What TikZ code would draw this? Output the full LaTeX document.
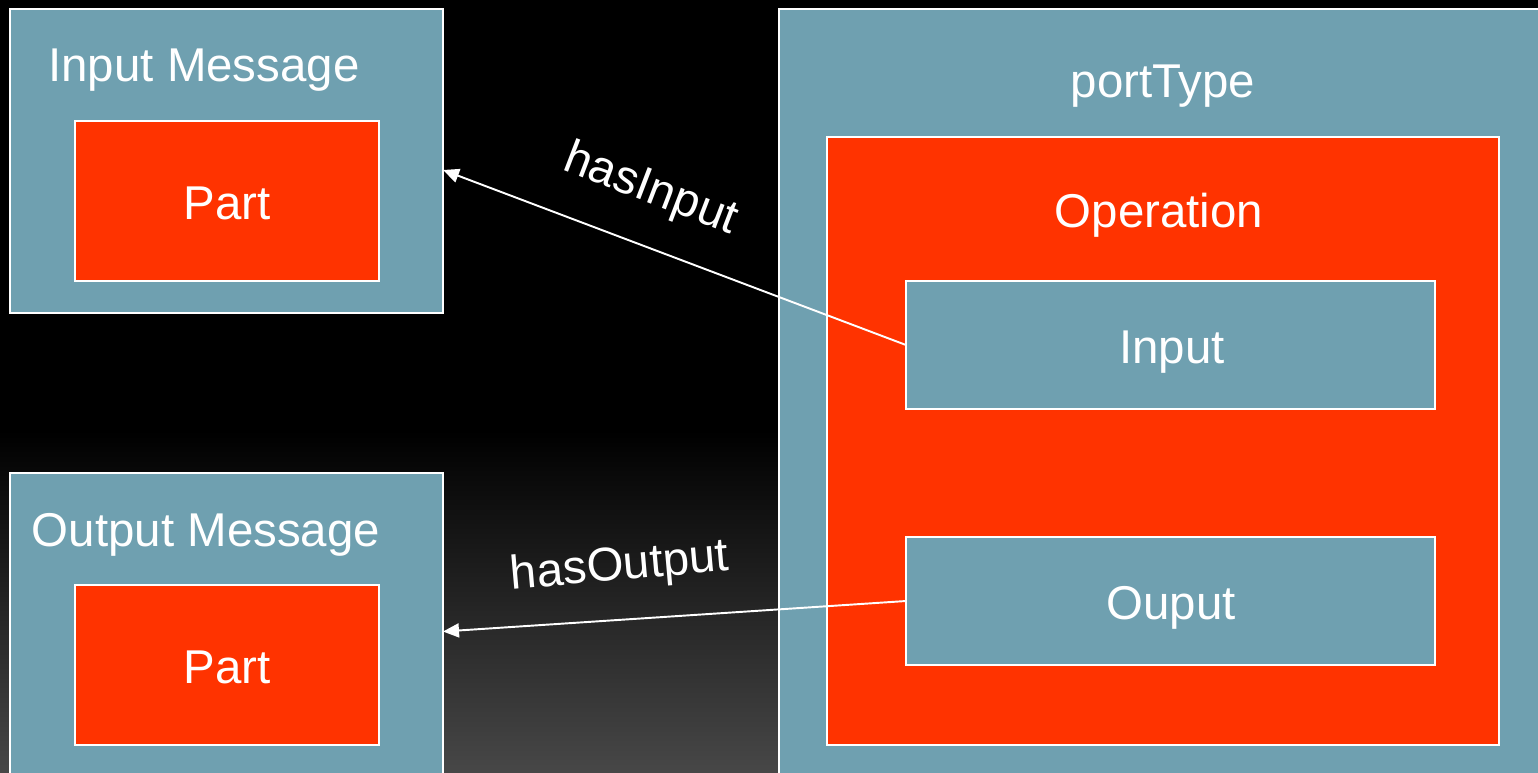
\documentclass[tikz,border=0pt]{standalone}
\usepackage{fontspec}
\setmainfont{Liberation Sans}
\usetikzlibrary{arrows.meta}
\definecolor{slate}{HTML}{6FA0B0}
\definecolor{signal}{HTML}{FF3300}
\definecolor{floor}{HTML}{474747}
\tikzset{
  frame/.style={draw=white, line width=1.1pt, inner sep=0pt, outer sep=0pt, anchor=north west},
  slatebox/.style={frame, fill=slate},
  redbox/.style={frame, fill=signal},
  caption/.style={text=white, inner sep=0pt, anchor=base, font=\fontsize{27}{30}\selectfont},
  link/.style={draw=white, line width=1.1pt, -{Triangle[length=0.32cm, width=0.28cm]}}
}
\begin{document}
\begin{tikzpicture}[x=0.02cm, y=-0.02cm]
  \useasboundingbox (0,0) rectangle (1538,772);
  \clip (0,0) rectangle (1538,772);
  % backdrop: black, fading to dark grey near the bottom
  \fill[black] (0,0) rectangle (1538,431);
  \shade[top color=black, bottom color=floor] (0,430) rectangle (1538,772);

  % message boxes
  \node[slatebox, minimum width=433*0.02cm, minimum height=304*0.02cm] (inmsg) at (10,9) {};
  \node[redbox, minimum width=304*0.02cm, minimum height=160*0.02cm] (inpart) at (75,121) {};
  \node[slatebox, minimum width=433*0.02cm, minimum height=317*0.02cm] (outmsg) at (10,473) {};
  \node[redbox, minimum width=304*0.02cm, minimum height=160*0.02cm] (outpart) at (75,585) {};

  % portType with its operation
  \node[slatebox, minimum width=800*0.02cm, minimum height=800*0.02cm] (porttype) at (779,9) {};
  \node[redbox, minimum width=672*0.02cm, minimum height=608*0.02cm] (operation) at (827,137) {};
  \node[slatebox, minimum width=529*0.02cm, minimum height=128*0.02cm] (inputbox) at (906,281) {};
  \node[slatebox, minimum width=529*0.02cm, minimum height=128*0.02cm] (outputbox) at (906,537) {};

  % captions
  \node[caption] (tinmsg) at (204,81) {Input Message};
  \node[caption] (tinpart) at (227,219) {Part};
  \node[caption] (toutmsg) at (206,546) {Output Message};
  \node[caption] (toutpart) at (227,683) {Part};
  \node[caption] (tport) at (1163,97) {portType};
  \node[caption] (top) at (1159,227) {Operation};
  \node[caption] (tin) at (1172,363) {Input};
  \node[caption] (tout) at (1171,619) {Ouput};

  % relations
  \draw[link] (inputbox.west) -- ([yshift=-0.18cm]inmsg.east);
  \draw[link] (outputbox.west) -- (outmsg.east);
  \node[caption, rotate=-21] (lin) at (646,202) {hasInput};
  \node[caption, rotate=5] (lout) at (621,580) {hasOutput};
\end{tikzpicture}
\end{document}
